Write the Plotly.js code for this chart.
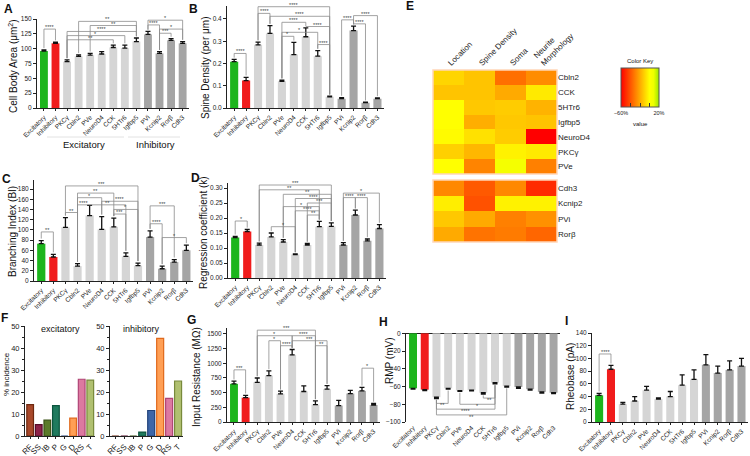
<!DOCTYPE html>
<html>
<head>
<meta charset="utf-8">
<script src="https://cdn.plot.ly/plotly-3.0.1.min.js"></script>
<style>
  html, body { margin: 0; padding: 0; background: #fff; }
  #plot { width: 750px; height: 456px; }
</style>
</head>
<body>
<div id="plot"></div>
<script>
// categories
var cats = ['Excitatory', 'Inhibitory', 'PKCγ', 'Cbln2', 'PVe', 'NeuroD4', 'CCK', '5HTr6', 'Igfbp5', 'PVi', 'Kcnip2', 'Rorβ', 'Cdh3'];

// A - cell body area
var areaMean = [96, 109, 78, 87, 89, 91, 102, 101, 112, 124, 92, 114, 109];
var areaErr = [2, 2, 3, 2.5, 3, 4, 4, 5, 6, 5, 3, 3, 3];
var areaSig = [[0, 1, 133, '****'], [3, 8, 146, '**'], [4, 8, 139, '**'], [2, 8, 129, '****'], [2, 7, 122, '*'], [2, 6, 115, '**'],
               [9, 12, 148, '*'], [9, 10, 140, '****'], [10, 12, 133, '*'], [10, 11, 126, '***']];

// B - spine density
var spineMean = [0.208, 0.123, 0.284, 0.335, 0.12, 0.24, 0.32, 0.233, 0.05, 0.042, 0.348, 0.024, 0.042];
var spineErr = [0.01, 0.015, 0.012, 0.035, 0.005, 0.055, 0.04, 0.025, 0.003, 0.005, 0.02, 0.002, 0.003];
var spineSig = [[0, 1, 0.245, '****'], [2, 8, 0.455, '****'], [2, 3, 0.425, '****'], [3, 8, 0.412, '****'], [4, 6, 0.385, '****'],
                [6, 8, 0.366, '****'], [4, 7, 0.34, '*'], [4, 5, 0.322, '*'], [7, 8, 0.285, '****'],
                [9, 10, 0.396, '****'], [10, 11, 0.378, '****'], [10, 12, 0.415, '****']];

// C - branching index
var biMean = [73, 47, 105, 29, 128, 101, 106, 48, 30, 86, 24, 37, 60];
var biErr = [6, 5, 19, 5, 20, 25, 17, 7, 5, 12, 5, 5, 10];
var biSig = [[0, 1, 96, '**'], [2, 8, 186, '***'], [3, 6, 172, '**'], [3, 5, 163, '*'], [5, 8, 156, '****'], [3, 4, 149, '****'],
             [4, 7, 149, '**'], [6, 8, 140, '*'], [2, 3, 134, '**'], [6, 7, 131, '***'],
             [9, 11, 147, '***'], [9, 10, 112, '****'], [10, 12, 85, '*']];

// D - regression coefficient
var kMean = [0.135, 0.155, 0.11, 0.137, 0.12, 0.078, 0.11, 0.171, 0.172, 0.11, 0.21, 0.124, 0.165];
var kErr = [0.004, 0.007, 0.006, 0.013, 0.008, 0.002, 0.005, 0.018, 0.012, 0.008, 0.016, 0.006, 0.013];
var kSig = [[0, 1, 0.19, '*'], [2, 8, 0.31, '***'], [2, 7, 0.294, '**'], [4, 8, 0.279, '**'], [5, 8, 0.265, '****'],
            [6, 8, 0.25, '***'], [4, 7, 0.238, '*'], [5, 7, 0.224, '****'], [6, 7, 0.21, '**'], [3, 5, 0.171, '*'],
            [9, 12, 0.283, '*'], [9, 10, 0.268, '****'], [10, 11, 0.268, '****']];

// E - heatmap (% change)
var heatFeatures = ['Location', 'Spine Density', 'Soma', 'Neurite<br>Morphology'];
var exRows = ['Cbln2', 'CCK', '5HTr6', 'Igfbp5', 'NeuroD4', 'PKCγ', 'PVe'];
var exZ = [[-10, -14, -34, -27],
           [-14, -14, -20, -5],
           [0, -13, -12, -18],
           [0, -19, -13, -14],
           [-1, -7, -12, -60],
           [-11, -17, -3, -5],
           [0, -29, 5, -30]];
var inRows = ['Cdh3', 'Kcnip2', 'PVi', 'Rorβ'];
var inZ = [[-28, -39, -28, -50],
           [-4, -41, -3, -3],
           [-13, -20, -30, -26],
           [-20, -33, -31, -36]];

// F - firing types
var firingCats = ['RF', 'SS', 'IB', 'P', 'G', 'D', 'RS', 'T'];
var excPct = [14.3, 5.2, 7.2, 13.8, 0, 8.1, 25.8, 25.4];
var inhPct = [0, 0, 0, 1.8, 11.6, 44.4, 17.1, 25.0];

// G - input resistance
var rinMean = [650, 415, 675, 790, 480, 1145, 520, 295, 560, 280, 485, 530, 290];
var rinErr = [45, 40, 75, 80, 45, 90, 95, 65, 60, 90, 55, 60, 25];
var rinSig = [[0, 1, 889, '***'], [2, 7, 1565, '***'], [2, 5, 1470, '*'], [5, 7, 1470, '****'], [3, 4, 1385, '*'],
              [5, 8, 1385, '***'], [4, 5, 1300, '****'], [7, 8, 1300, '**'], [11, 12, 917, '*']];

// H - resting membrane potential
var rmpMean = [-62, -63.5, -72, -62, -64.5, -64, -67, -55.5, -59.5, -60.5, -63, -66, -67];
var rmpErr = [1, 1, 1.5, 1, 1, 1, 1.5, 1.5, 1, 1.5, 1, 1.5, 1];
var rmpSig = [[2, 3, -79, '**'], [6, 7, -73, '**'], [4, 7, -80, '*'], [2, 7, -85.5, '****'], [2, 8, -92, '**']];

// I - rheobase
var rheoMean = [42, 83, 28, 33, 50, 36, 40, 58, 67, 90, 77, 82, 88];
var rheoErr = [3, 6, 3, 7, 6, 2, 8, 16, 15, 16, 11, 14, 12];
var rheoSig = [[0, 1, 107, '****']];

// styles
var W = 750, H = 456;
var FONT = 'Liberation Sans, Arial, sans-serif';
var barColors = ['#1db51d', '#f01c1c', '#d5d5d5', '#d5d5d5', '#d5d5d5', '#d5d5d5', '#d5d5d5', '#d5d5d5', '#d5d5d5',
                 '#a5a5a5', '#a5a5a5', '#a5a5a5', '#a5a5a5'];
var firingFill = ['#a8482a', '#8c2148', '#5b7a2a', '#1f7a5e', '#3d66a8', '#ff9f55', '#dc79a0', '#b0c070'];
var firingEdge = ['#6e2810', '#560c2a', '#3a5214', '#0c553e', '#22427a', '#e0691c', '#b04676', '#788a3c'];
var heatScale = [[0, '#ff0000'], [0.25, '#ff5500'], [0.45, '#ff9900'], [0.6, '#ffcc00'], [0.75, '#ffff00'], [0.86, '#eeff00'], [1, '#99e600']];

var shapes = [];
var annotations = [];
var layout = {
    width: W, height: H,
    margin: {l: 0, r: 0, t: 0, b: 0},
    paper_bgcolor: '#fff', plot_bgcolor: 'rgba(0,0,0,0)',
    font: {family: FONT, size: 7, color: '#222'},
    showlegend: false
};

function id(n) { return n === 1 ? '' : String(n); }

function label(txt, x, y, size, opts) {
    var a = {xref: 'paper', yref: 'paper', x: x / W, y: 1 - y / H, text: txt, showarrow: false,
             font: {size: size, color: '#111'}, xanchor: 'center', yanchor: 'middle'};
    for (var k in opts) a[k] = opts[k];
    annotations.push(a);
}

function catAxis(n, x0, x1, catCount, fs) {
    layout['xaxis' + id(n)] = {
        domain: [x0 / W, x1 / W], anchor: 'y' + id(n), type: 'category',
        range: [-0.6, catCount - 0.45], tickmode: 'linear', tick0: 0, dtick: 1,
        tickangle: -45, tickfont: {size: fs}, ticks: 'outside', ticklen: 2, tickcolor: '#222',
        showline: true, linecolor: '#222', linewidth: 1, showgrid: false, zeroline: false, fixedrange: true
    };
}

// y axis; title drawn as rotated text at (tx, ty)
function valAxis(n, top, bot, range, dtick, title, tx, ty, fs) {
    layout['yaxis' + id(n)] = {
        domain: [1 - bot / H, 1 - top / H], anchor: 'x' + id(n), range: range,
        tickmode: 'linear', tick0: 0, dtick: dtick, tickfont: {size: 6.5},
        ticks: 'outside', ticklen: 3, tickcolor: '#222', showline: true, linecolor: '#222', linewidth: 1,
        showgrid: false, zeroline: false, fixedrange: true
    };
    if (title) label(title, tx, ty, fs || 10, {textangle: -90});
}

function barTrace(n, mean, err, down) {
    var none = err.map(function () { return 0; });
    return {
        type: 'bar', x: cats, y: mean, xaxis: 'x' + id(n), yaxis: 'y' + id(n), width: 0.68,
        marker: {color: barColors, line: {width: 0}},
        error_y: {type: 'data', symmetric: false, array: down ? none : err, arrayminus: down ? err : none,
                  color: '#111', thickness: 1.3, width: 2.5},
        hoverinfo: 'skip'
    };
}

// significance brackets: legs drop towards the bars
function brackets(n, sig, mean, err, pad, dir) {
    sig.forEach(function (s) {
        var i = s[0], j = s[1], y = s[2];
        var ei = mean[i] + dir * (err[i] + pad), ej = mean[j] + dir * (err[j] + pad);
        if (dir * (y - ei) < 0) ei = y;
        if (dir * (y - ej) < 0) ej = y;
        shapes.push({type: 'path', xref: 'x' + id(n), yref: 'y' + id(n),
                     path: 'M' + i + ',' + ei + ' L' + i + ',' + y + ' L' + j + ',' + y + ' L' + j + ',' + ej,
                     line: {color: '#8c8c8c', width: 0.8}});
        annotations.push({xref: 'x' + id(n), yref: 'y' + id(n), x: (i + j) / 2, y: y, text: s[3], showarrow: false,
                          font: {size: 5.5, color: '#444'}, yanchor: dir > 0 ? 'bottom' : 'top', yshift: dir > 0 ? -3 : 3});
    });
}

var data = [];

// A
data.push(barTrace(1, areaMean, areaErr, false));
catAxis(1, 37, 189, 13, 6.5);
valAxis(1, 19, 108, [0, 150], 25, 'Cell Body Area (μm<sup>2</sup>)', 13, 66);
brackets(1, areaSig, areaMean, areaErr, 3, 1);

// B
data.push(barTrace(2, spineMean, spineErr, false));
catAxis(2, 227, 384, 13, 6.5);
valAxis(2, 5.6, 108, [0, 0.46], 0.1, 'Spine Density (per μm)', 205, 68);
layout.yaxis2.tickformat = '.1f';
brackets(2, spineSig, spineMean, spineErr, 0.008, 1);

// C
data.push(barTrace(3, biMean, biErr, false));
catAxis(3, 34, 193, 13, 6.5);
valAxis(3, 180, 281, [0, 197.6], 20, 'Branching Index (BI)', 12, 232);
brackets(3, biSig, biMean, biErr, 4, 1);

// D
data.push(barTrace(4, kMean, kErr, false));
catAxis(4, 228, 386, 13, 6.5);
valAxis(4, 182.6, 278, [0, 0.318], 0.05, 'Regression coefficient (k)', 203, 233);
layout.yaxis4.tickformat = '.2f';
brackets(4, kSig, kMean, kErr, 0.006, 1);

// E heatmap, two blocks sharing one colour key
data.push({type: 'heatmap', x: heatFeatures, y: exRows, z: exZ, xaxis: 'x5', yaxis: 'y5',
           colorscale: heatScale, zmin: -60, zmax: 20, hoverinfo: 'skip', showscale: true,
           colorbar: {orientation: 'h', x: 640 / W, xanchor: 'center', y: 1 - 68 / H, yanchor: 'top',
                      len: 38, lenmode: 'pixels', thickness: 39, thicknessmode: 'pixels', xpad: 0, ypad: 0,
                      outlinecolor: '#555', outlinewidth: 1,
                      tickmode: 'linear', tick0: -60, dtick: 20, ticklabelstep: 4, ticksuffix: '%',
                      ticks: 'inside', ticklen: 4, tickcolor: '#333', tickfont: {size: 5.5}}});
data.push({type: 'heatmap', x: heatFeatures, y: inRows, z: inZ, xaxis: 'x6', yaxis: 'y6',
           colorscale: heatScale, zmin: -60, zmax: 20, hoverinfo: 'skip', showscale: false});
layout.xaxis5 = {domain: [433 / W, 557 / W], anchor: 'y5', side: 'top', tickangle: -45, tickfont: {size: 8},
                 ticks: '', showline: false, showgrid: false, zeroline: false, fixedrange: true};
layout.yaxis5 = {domain: [1 - 174 / H, 1 - 70 / H], anchor: 'x5', side: 'right', autorange: 'reversed',
                 tickfont: {size: 8}, ticks: '', showgrid: false, zeroline: false, fixedrange: true};
layout.xaxis6 = {domain: [433 / W, 557 / W], anchor: 'y6', showticklabels: false, ticks: '',
                 showline: false, showgrid: false, zeroline: false, fixedrange: true};
layout.yaxis6 = {domain: [1 - 242 / H, 1 - 180 / H], anchor: 'x6', side: 'right', autorange: 'reversed',
                 tickfont: {size: 8}, ticks: '', showgrid: false, zeroline: false, fixedrange: true};
// faint edge round each block
['5', '6'].forEach(function (k) {
    shapes.push({type: 'rect', xref: 'x' + k + ' domain', yref: 'y' + k + ' domain', x0: 0, x1: 1, y0: 0, y1: 1,
                 line: {color: '#ffd6b8', width: 1.5}});
});

// F firing types
function firingTrace(n, pct) {
    return {type: 'bar', x: firingCats, y: pct, xaxis: 'x' + n, yaxis: 'y' + n, width: 0.78,
            marker: {color: firingFill, line: {color: firingEdge, width: 1.2}}, hoverinfo: 'skip'};
}
data.push(firingTrace(7, excPct));
data.push(firingTrace(8, inhPct));
catAxis(7, 25, 95, 8, 8);
catAxis(8, 110, 183, 8, 8);
valAxis(7, 326, 436, [0, 50], 10, '% incidence', 6, 374, 8);
valAxis(8, 326, 436, [0, 50], 10, null);
layout.yaxis7.tickfont = {size: 7.5};
layout.yaxis8.tickfont = {size: 7.5};
layout.yaxis7.minor = {dtick: 5, ticks: 'outside', ticklen: 2, tickcolor: '#222'};
layout.yaxis8.minor = {dtick: 5, ticks: 'outside', ticklen: 2, tickcolor: '#222'};

// G
data.push(barTrace(9, rinMean, rinErr, false));
catAxis(9, 227, 380, 13, 6.5);
valAxis(9, 328.1, 422, [0, 1600], 250, 'Input Resistance (MΩ)', 196, 377);
brackets(9, rinSig, rinMean, rinErr, 30, 1);

// H (bars hang from 0)
data.push(barTrace(10, rmpMean, rmpErr, true));
catAxis(10, 406, 560, 13, 6.5);
layout.xaxis10.showline = false;
layout.xaxis10.ticks = '';
valAxis(10, 333, 422, [-100, 0.4], 20, 'RMP (mV)', 389, 361);
layout.yaxis10.zeroline = true;
layout.yaxis10.zerolinecolor = '#222';
layout.yaxis10.zerolinewidth = 1;
brackets(10, rmpSig, rmpMean, rmpErr, 1.5, -1);

// I
data.push(barTrace(11, rheoMean, rheoErr, false));
catAxis(11, 592, 748, 13, 6.5);
valAxis(11, 333, 422, [0, 140], 20, 'Rheobase (pA)', 570, 377);
brackets(11, rheoSig, rheoMean, rheoErr, 3, 1);

// panel letters
label('<b>A</b>', 8, 9, 12);
label('<b>B</b>', 193, 9, 12);
label('<b>C</b>', 6, 179, 12);
label('<b>D</b>', 195, 178, 12);
label('<b>E</b>', 410, 6, 12);
label('<b>F</b>', 4, 318, 12);
label('<b>G</b>', 191, 320, 12);
label('<b>H</b>', 383, 322, 12);
label('<b>I</b>', 566, 321, 12);

// group labels under A
label('Excitatory', 84, 145, 9.5);
label('Inhibitory', 155, 145, 9.5);
shapes.push({type: 'line', xref: 'paper', yref: 'paper', x0: 47 / W, x1: 124 / W, y0: 1 - 137 / H, y1: 1 - 137 / H,
             line: {color: '#e2e2e2', width: 1}});
shapes.push({type: 'line', xref: 'paper', yref: 'paper', x0: 128 / W, x1: 180 / W, y0: 1 - 137 / H, y1: 1 - 137 / H,
             line: {color: '#e2e2e2', width: 1}});

// F titles and colour key captions
label('excitatory', 61, 329, 9);
label('inhibitory', 141, 329, 9);
label('Color Key', 640, 61, 6);
label('value', 640, 124, 6);

layout.shapes = shapes;
layout.annotations = annotations;

Plotly.newPlot('plot', data, layout, {displayModeBar: false, staticPlot: true});
</script>
</body>
</html>
